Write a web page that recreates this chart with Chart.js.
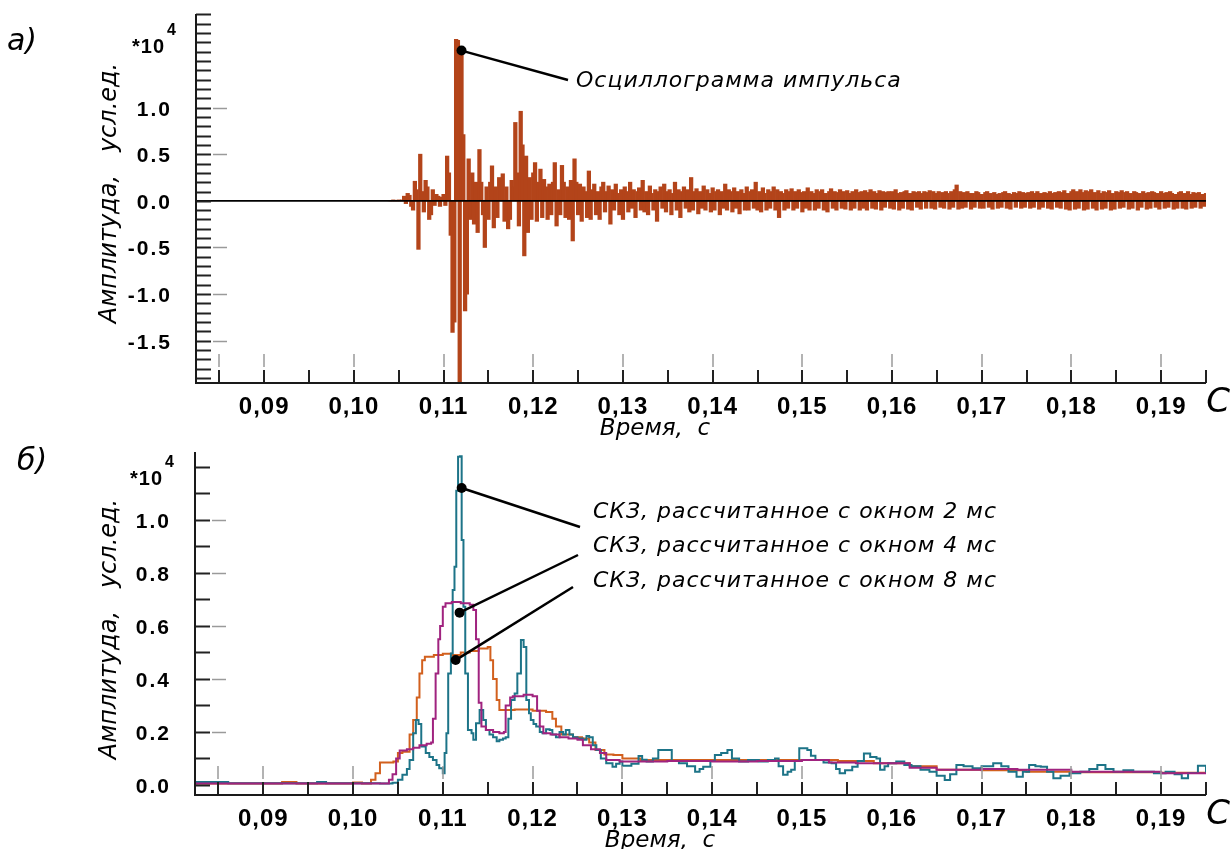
<!DOCTYPE html>
<html lang="ru">
<head>
  <meta charset="UTF-8">
  <title>Осциллограмма импульса и СКЗ</title>
  <script src="https://cdn.jsdelivr.net/npm/chart.js@4.4.1/dist/chart.umd.min.js"></script>
  <style>
    html, body { margin: 0; padding: 0; background: #fff; }
    .wrap { position: relative; width: 1230px; height: 849px; overflow: hidden; }
    canvas { position: absolute; left: 0; top: 0; }
  </style>
</head>
<body>
  <div class="wrap">
    <canvas id="oscChart" width="1230" height="849"></canvas>
    <canvas id="rmsChart" width="1230" height="849"></canvas>
  </div>

  <script>
    // Оси
    const xTicks = [0.09, 0.10, 0.11, 0.12, 0.13, 0.14, 0.15, 0.16, 0.17, 0.18, 0.19];
    const xTickLabels = ['0,09', '0,10', '0,11', '0,12', '0,13', '0,14', '0,15', '0,16', '0,17', '0,18', '0,19'];
    const xGrayTicks = [0.085, 0.09, 0.10, 0.11, 0.12, 0.13, 0.14, 0.15, 0.16, 0.17, 0.18, 0.19];
    const oscYTicks = [1.0, 0.5, 0.0, -0.5, -1.0, -1.5];
    const oscYLabels = ['1.0', '0.5', '0.0', '-0.5', '-1.0', '-1.5'];
    const rmsYTicks = [1.0, 0.8, 0.6, 0.4, 0.2, 0.0];
    const rmsYLabels = ['1.0', '0.8', '0.6', '0.4', '0.2', '0.0'];

    // Осциллограмма: отсчёты с шагом 0.2 мс начиная с 0.104 с (ед. *10^4)
    const OSC_T0 = 0.1040;
    const OSC_DT = 0.0002;
    const oscValues = [
      0, 0, 0.01, 0, 0, 0.01, 0, 0.01, 0.05, -0.03, 0.08, 0.06, -0.06, -0.1, 0.21, 0.12, -0.52, 0.5, 0.1, -0.12,
      0.22, 0.15, -0.2, -0.15, 0.12, -0.05, 0.07, 0.05, -0.06, 0.04, 0.07, -0.05, 0.48, 0.3, -0.37, -1.41, -1.3, 1.73, 1.72, -1.98,
      1.65, 0.71, -1.18, -1.0, 0.45, -0.2, 0.3, -0.25, 0.2, -0.34, 0.55, 0.2, -0.15, -0.5, 0.15, -0.2, 0.2, 0.375, -0.29, 0.15,
      -0.18, 0.25, 0.2, 0.29, -0.22, 0.15, -0.3, -0.2, 0.22, 0.15, 0.84, 0.3, -0.27, 0.96, 0.6, -0.59, 0.48, -0.34, 0.25, -0.2,
      0.3, 0.41, -0.22, 0.2, 0.34, -0.18, 0.23, 0.15, -0.2, 0.18, -0.15, 0.2, 0.41, -0.27, 0.12, -0.15, 0.38, 0.2, -0.18, 0.15,
      -0.2, 0.22, -0.43, 0.45, 0.2, -0.15, 0.18, -0.22, 0.15, 0.1, -0.18, 0.32, -0.2, 0.12, 0.18, -0.15, 0.1, -0.2, 0.15, 0.2,
      -0.12, 0.1, 0.16, -0.25, 0.12, -0.1, 0.18, 0.08, -0.15, 0.12, -0.2, 0.15, 0.1, -0.12, 0.2, -0.08, 0.12, -0.18, 0.1, 0.14,
      -0.1, 0.22, -0.12, 0.1, -0.15, 0.16, 0.08, -0.1, 0.12, -0.22, 0.1, 0.15, -0.08, 0.18, -0.12, 0.1, 0.12, -0.15, 0.08, 0.2,
      -0.1, 0.12, -0.18, 0.1, 0.15, -0.08, 0.12, -0.12, 0.25, -0.1, 0.1, 0.13, -0.14, 0.1, -0.08, 0.16, -0.1, 0.12, 0.08, -0.12,
      0.14, -0.1, 0.1, 0.12, -0.15, 0.1, -0.08, 0.18, -0.1, 0.12, 0.1, -0.12, 0.14, -0.08, 0.1, -0.14, 0.12, 0.08, -0.1, 0.15,
      -0.1, 0.1, 0.12, -0.08, 0.2, -0.1, 0.1, -0.12, 0.14, 0.08, -0.1, 0.12, -0.08, 0.1, 0.15, -0.1, 0.12, -0.18, 0.1, 0.08,
      -0.1, 0.12, -0.08, 0.1, 0.13, -0.1, 0.1, -0.08, 0.12, 0.09, -0.12, 0.1, -0.08, 0.14, -0.1, 0.1, 0.08, -0.1, 0.12, -0.08,
      0.1, 0.12, -0.1, 0.08, -0.12, 0.1, 0.13, -0.08, 0.1, -0.1, 0.09, 0.12, -0.08, 0.1, -0.09, 0.11, 0.08, -0.1, 0.1, -0.08,
      0.12, 0.09, -0.1, 0.1, -0.08, 0.11, -0.1, 0.09, 0.12, -0.08, 0.1, -0.09, 0.08, 0.11, -0.1, 0.1, -0.07, 0.09, 0.1, -0.08,
      0.1, -0.09, 0.12, 0.08, -0.1, 0.09, -0.08, 0.1, 0.11, -0.09, 0.08, -0.1, 0.1, 0.09, -0.07, 0.1, -0.09, 0.08, 0.1, -0.08,
      0.09, 0.11, -0.08, 0.1, -0.09, 0.08, 0.1, -0.07, 0.09, -0.08, 0.1, 0.08, -0.09, 0.1, -0.07, 0.12, 0.17, -0.09, 0.1, -0.08,
      0.09, -0.07, 0.1, 0.08, -0.09, 0.08, -0.07, 0.1, 0.09, -0.08, 0.07, -0.08, 0.09, 0.1, -0.07, 0.08, -0.09, 0.09, 0.07, -0.08,
      0.08, -0.07, 0.09, 0.1, -0.08, 0.08, -0.09, 0.07, 0.09, -0.07, 0.08, 0.1, -0.08, 0.09, -0.07, 0.08, 0.09, -0.08, 0.1, -0.07,
      0.08, 0.1, -0.09, 0.08, -0.07, 0.09, 0.08, -0.08, 0.1, -0.09, 0.08, 0.09, -0.07, 0.1, -0.08, 0.09, 0.11, -0.09, 0.08, -0.1,
      0.1, 0.12, -0.09, 0.1, -0.08, 0.12, 0.09, -0.1, 0.11, -0.09, 0.1, 0.12, -0.08, 0.09, -0.1, 0.11, 0.08, -0.09, 0.1, -0.08,
      0.09, 0.11, -0.1, 0.08, -0.09, 0.1, 0.09, -0.08, 0.11, -0.07, 0.09, 0.1, -0.09, 0.08, -0.08, 0.1, 0.09, -0.1, 0.08, -0.07,
      0.1, 0.08, -0.09, 0.09, -0.08, 0.1, 0.09, -0.07, 0.08, -0.09, 0.1, 0.08, -0.08, 0.09, -0.07, 0.1, 0.08, -0.09, 0.07, -0.08,
      0.09, 0.1, -0.08, 0.08, -0.09, 0.1, 0.07, -0.08, 0.09, -0.07, 0.08, 0.09, -0.08, 0.07, -0.06, 0.08
    ];

    // СКЗ, окно 2 мс
    const rms2T = [
      0.0824, 0.0826, 0.0861, 0.0960, 0.0970, 0.1030, 0.1044, 0.1050, 0.1055, 0.1060,
      0.1063, 0.1067, 0.1070, 0.1073, 0.1076, 0.1081, 0.1085, 0.1089, 0.1093, 0.1096,
      0.1100, 0.1102, 0.1104, 0.1106, 0.1109, 0.1111, 0.1113, 0.1115, 0.1117, 0.1119,
      0.1121, 0.1123, 0.1125, 0.1128, 0.1132, 0.1134, 0.1137, 0.1141, 0.1145, 0.1148,
      0.1152, 0.1156, 0.1160, 0.1163, 0.1167, 0.1170, 0.1173, 0.1176, 0.1180, 0.1183,
      0.1187, 0.1190, 0.1193, 0.1196, 0.1198, 0.1201, 0.1204, 0.1208, 0.1211, 0.1215,
      0.1219, 0.1222, 0.1226, 0.1230, 0.1234, 0.1237, 0.1241, 0.1245, 0.1250, 0.1256,
      0.1260, 0.1263, 0.1267, 0.1271, 0.1276, 0.1282, 0.1289, 0.1293, 0.1297, 0.1300,
      0.1310, 0.1318, 0.1322, 0.1327, 0.1334, 0.1340, 0.1352, 0.1355, 0.1363, 0.1372,
      0.1381, 0.1386, 0.1390, 0.1398, 0.1403, 0.1410, 0.1417, 0.1422, 0.1430, 0.1440,
      0.1452, 0.1462, 0.1470, 0.1474, 0.1479, 0.1484, 0.1488, 0.1492, 0.1497, 0.1506,
      0.1510, 0.1515, 0.1524, 0.1533, 0.1538, 0.1542, 0.1548, 0.1556, 0.1562, 0.1569,
      0.1576, 0.1583, 0.1587, 0.1592, 0.1596, 0.1605, 0.1614, 0.1622, 0.1632, 0.1642,
      0.1650, 0.1659, 0.1665, 0.1672, 0.1680, 0.1690, 0.1700, 0.1713, 0.1722, 0.1730,
      0.1739, 0.1746, 0.1753, 0.1760, 0.1766, 0.1773, 0.1780, 0.1788, 0.1798, 0.1810,
      0.1820, 0.1829, 0.1838, 0.1847, 0.1858, 0.1869, 0.1880, 0.1892, 0.1905, 0.1915,
      0.1923, 0.1930, 0.1941, 0.1950
    ];
    const rms2V = [
      0.006, 0.011, 0.006, 0.011, 0.006, 0.005, 0.008, 0.02, 0.038, 0.06,
      0.094, 0.195, 0.245, 0.23, 0.145, 0.12, 0.105, 0.094, 0.075, 0.063,
      0.044, 0.12, 0.195, 0.42, 0.496, 0.735, 0.823, 1.11, 1.238, 1.24,
      0.924, 0.672, 0.42, 0.207, 0.195, 0.17, 0.233, 0.283, 0.245, 0.207,
      0.19, 0.18, 0.165, 0.17, 0.175, 0.18, 0.25, 0.32, 0.345, 0.42,
      0.547, 0.52, 0.32, 0.27, 0.245, 0.23, 0.22, 0.2, 0.195, 0.21,
      0.207, 0.19, 0.18, 0.2, 0.19, 0.207, 0.19, 0.18, 0.175, 0.17,
      0.185, 0.18, 0.15, 0.132, 0.1, 0.082, 0.069, 0.08, 0.088, 0.072,
      0.08, 0.109, 0.095, 0.088, 0.1, 0.132, 0.132, 0.09, 0.082, 0.07,
      0.05, 0.06, 0.069, 0.09, 0.113, 0.12, 0.132, 0.1, 0.088, 0.094,
      0.088, 0.094, 0.1, 0.07, 0.038, 0.05, 0.057, 0.09, 0.138, 0.132,
      0.11, 0.094, 0.085, 0.082, 0.06, 0.044, 0.055, 0.069, 0.09, 0.119,
      0.105, 0.1, 0.057, 0.07, 0.082, 0.088, 0.075, 0.07, 0.057, 0.05,
      0.035, 0.019, 0.04, 0.075, 0.07, 0.063, 0.07, 0.082, 0.07, 0.05,
      0.031, 0.05, 0.075, 0.07, 0.069, 0.05, 0.025, 0.035, 0.044, 0.05,
      0.06, 0.075, 0.06, 0.05, 0.055, 0.05, 0.05, 0.044, 0.05, 0.04,
      0.025, 0.045, 0.072, 0.044
    ];

    // СКЗ, окно 4 мс
    const rms4T = [
      0.0824, 0.1033, 0.1040, 0.1044, 0.1048, 0.1052, 0.1060, 0.1067, 0.1074, 0.1082,
      0.1087, 0.1089, 0.1092, 0.1095, 0.1097, 0.1100, 0.1103, 0.1110, 0.1120, 0.1130,
      0.1134, 0.1137, 0.1140, 0.1143, 0.1148, 0.1156, 0.1163, 0.1168, 0.1170, 0.1175,
      0.1178, 0.1190, 0.1200, 0.1205, 0.1208, 0.1212, 0.1220, 0.1230, 0.1240, 0.1250,
      0.1256, 0.1265, 0.1275, 0.1282, 0.1297, 0.1310, 0.1350, 0.1400, 0.1450, 0.1500,
      0.1530, 0.1560, 0.1590, 0.1620, 0.1650, 0.1700, 0.1740, 0.1800, 0.1850, 0.1900,
      0.1950
    ];
    const rms4V = [
      0.005, 0.005, 0.02, 0.04, 0.10, 0.13, 0.135, 0.14, 0.15, 0.155,
      0.16, 0.25, 0.42, 0.55, 0.60, 0.672, 0.685, 0.69, 0.685, 0.68,
      0.66, 0.55, 0.31, 0.22, 0.207, 0.2, 0.195, 0.2, 0.30, 0.33,
      0.335, 0.34, 0.335, 0.28, 0.22, 0.195, 0.19, 0.18, 0.175, 0.17,
      0.15, 0.135, 0.12, 0.094, 0.088, 0.088, 0.09, 0.088, 0.09, 0.094,
      0.085, 0.082, 0.082, 0.065, 0.057, 0.06, 0.057, 0.05, 0.05, 0.044,
      0.042
    ];

    // СКЗ, окно 8 мс
    const rms8T = [
      0.0824, 0.0921, 0.0937, 0.1000, 0.1010, 0.1015, 0.1020, 0.1025, 0.1030, 0.1045,
      0.1050, 0.1055, 0.1063, 0.1067, 0.1071, 0.1074, 0.1077, 0.1080, 0.1090, 0.1100,
      0.1110, 0.1120, 0.1130, 0.1140, 0.1150, 0.1153, 0.1156, 0.1160, 0.1163, 0.1180,
      0.1200, 0.1215, 0.1222, 0.1226, 0.1232, 0.1245, 0.1255, 0.1263, 0.1270, 0.1280,
      0.1290, 0.1300, 0.1320, 0.1380, 0.1450, 0.1500, 0.1540, 0.1580, 0.1620, 0.1650,
      0.1700, 0.1750, 0.1800, 0.1850, 0.1900, 0.1950
    ];
    const rms8V = [
      0.005, 0.011, 0.005, 0.009, 0.005, 0.005, 0.02, 0.044, 0.085, 0.088,
      0.12, 0.125, 0.19, 0.245, 0.33, 0.42, 0.47, 0.484, 0.49, 0.495,
      0.49, 0.50, 0.505, 0.515, 0.52, 0.47, 0.40, 0.32, 0.283, 0.285,
      0.28, 0.275, 0.25, 0.22, 0.19, 0.18, 0.175, 0.16, 0.132, 0.115,
      0.113, 0.1, 0.094, 0.094, 0.094, 0.094, 0.09, 0.082, 0.07, 0.057,
      0.055, 0.05, 0.048, 0.048, 0.046, 0.046
    ];

    const OSC_COLOR = '#b3441a';
    const RMS2_COLOR = '#1d7488';
    const RMS4_COLOR = '#a0237f';
    const RMS8_COLOR = '#d2601e';

    const LABEL_FONT = '"Liberation Sans Narrow", "Liberation Sans", sans-serif';
    const TEXT_FONT = '"DejaVu Sans", sans-serif';

    function pairs(ts, vs) {
      return ts.map((t, i) => ({ x: t, y: vs[i] }));
    }

    function text(ctx, str, x, y, font, align, base, spacing) {
      ctx.font = font;
      ctx.textAlign = align || 'left';
      ctx.textBaseline = base || 'alphabetic';
      ctx.letterSpacing = spacing || '0px';
      ctx.fillStyle = '#000';
      ctx.fillText(str, x, y);
    }

    // рамка, риски, подписи
    function framePlugin(o) {
      return {
        id: 'frame',
        afterDatasetsDraw(chart) {
          const ctx = chart.ctx;
          const a = chart.chartArea;
          const x = chart.scales.x, y = chart.scales.y;
          ctx.save();

          if (o.zeroLine) {
            ctx.strokeStyle = '#000';
            ctx.lineWidth = 1.6;
            ctx.beginPath();
            ctx.moveTo(a.left, y.getPixelForValue(0));
            ctx.lineTo(a.right, y.getPixelForValue(0));
            ctx.stroke();
          }

          // риски оси Y
          ctx.strokeStyle = '#222';
          ctx.lineWidth = 2;
          for (let k = o.yMinorFrom; k <= o.yMinorTo; k++) {
            const py = Math.round(y.getPixelForValue(k * 0.1)) + 0.5;
            ctx.beginPath();
            ctx.moveTo(a.left, py);
            ctx.lineTo(a.left + 15, py);
            ctx.stroke();
          }
          ctx.strokeStyle = '#9a9a9a';
          ctx.lineWidth = 1.5;
          o.yTicks.forEach(v => {
            if (v === 0) return;
            const py = Math.round(y.getPixelForValue(v)) + 0.5;
            ctx.beginPath();
            ctx.moveTo(a.left + 17, py);
            ctx.lineTo(a.left + 31, py);
            ctx.stroke();
          });

          // риски оси X
          ctx.strokeStyle = '#222';
          ctx.lineWidth = 2;
          for (let k = 17; k <= 39; k++) {
            const px = Math.round(x.getPixelForValue(k * 0.005));
            ctx.beginPath();
            ctx.moveTo(px, a.bottom);
            ctx.lineTo(px, a.bottom - 13);
            ctx.stroke();
          }
          ctx.strokeStyle = '#9a9a9a';
          ctx.lineWidth = 1.5;
          xGrayTicks.forEach(v => {
            const px = Math.round(x.getPixelForValue(v));
            ctx.beginPath();
            ctx.moveTo(px, a.bottom - 16);
            ctx.lineTo(px, a.bottom - 29);
            ctx.stroke();
          });

          // оси
          ctx.strokeStyle = '#1a1a1a';
          ctx.lineWidth = 2;
          ctx.beginPath();
          ctx.moveTo(a.left, a.top);
          ctx.lineTo(a.left, a.bottom);
          ctx.lineTo(a.right, a.bottom);
          ctx.stroke();

          // подписи делений
          o.yTicks.forEach((v, i) => {
            text(ctx, o.yLabels[i], a.left - 24, y.getPixelForValue(v) + 8,
              'bold 21px ' + LABEL_FONT, 'right', 'alphabetic', '2px');
          });
          xTicks.forEach((v, i) => {
            text(ctx, xTickLabels[i], x.getPixelForValue(v), a.bottom + 31,
              'bold 24px ' + LABEL_FONT, 'center', 'alphabetic', '1px');
          });
          text(ctx, '*10', o.expX, o.expY, 'bold 20px ' + LABEL_FONT, 'right', 'alphabetic', '1px');
          text(ctx, '4', o.expX + 2, o.expY - 18, 'bold 16px ' + LABEL_FONT, 'left', 'alphabetic');

          // подписи осей
          text(ctx, 'Время,  с', o.xTitleX, a.bottom + 52, 'italic 23px ' + TEXT_FONT, 'center');
          text(ctx, 'С', a.right + 12, a.bottom + 29, 'italic 34px ' + TEXT_FONT, 'center');
          ctx.save();
          ctx.translate(116, o.yTitleY);
          ctx.rotate(-Math.PI / 2);
          text(ctx, 'Амплитуда,   усл.ед.', 0, 0, 'italic 24px ' + TEXT_FONT, 'center');
          ctx.restore();
          text(ctx, o.panel, o.panelX, o.panelY, 'italic 30px ' + TEXT_FONT, 'center');

          // выноски
          o.notes.forEach(n => {
            const px = x.getPixelForValue(n.t), py = y.getPixelForValue(n.v);
            ctx.strokeStyle = '#000';
            ctx.lineWidth = 2.5;
            ctx.beginPath();
            ctx.moveTo(px, py);
            ctx.lineTo(n.ex, n.ey);
            ctx.stroke();
            ctx.fillStyle = '#000';
            ctx.beginPath();
            ctx.arc(px, py, 5, 0, Math.PI * 2);
            ctx.fill();
            text(ctx, n.label, n.tx, n.ty, 'italic 22px ' + TEXT_FONT, 'left', 'alphabetic', '1px');
          });

          ctx.restore();
        }
      };
    }

    const baseOptions = (pad, yMin, yMax) => ({
      responsive: false,
      animation: false,
      devicePixelRatio: 1,
      layout: { padding: pad },
      plugins: { legend: { display: false }, tooltip: { enabled: false } },
      elements: { point: { radius: 0 } },
      scales: {
        x: { type: 'linear', min: 0.0824, max: 0.195, offset: false, display: false },
        y: { type: 'linear', min: yMin, max: yMax, display: false }
      }
    });

    new Chart(document.getElementById('oscChart'), {
      type: 'bar',
      data: {
        datasets: [{
          data: oscValues.map((v, i) => ({ x: OSC_T0 + i * OSC_DT, y: v })),
          backgroundColor: OSC_COLOR,
          borderWidth: 0,
          barThickness: 3.6
        }]
      },
      options: baseOptions({ left: 196, right: 24, top: 14, bottom: 466 }, -1.952, 2.002),
      plugins: [framePlugin({
        zeroLine: true,
        yMinorFrom: -19, yMinorTo: 20,
        yTicks: oscYTicks, yLabels: oscYLabels,
        expX: 165, expY: 53,
        xTitleX: 655, yTitleY: 193,
        panel: 'а)', panelX: 22, panelY: 50,
        notes: [
          { t: 0.1120, v: 1.61, ex: 568, ey: 80, tx: 576, ty: 87, label: 'Осциллограмма импульса' }
        ]
      })]
    });

    new Chart(document.getElementById('rmsChart'), {
      type: 'line',
      data: {
        datasets: [
          { data: pairs(rms4T, rms4V), borderColor: RMS4_COLOR, borderWidth: 2, stepped: true, fill: false, order: 0 },
          { data: pairs(rms2T, rms2V), borderColor: RMS2_COLOR, borderWidth: 2, stepped: true, fill: false, order: 1 },
          { data: pairs(rms8T, rms8V), borderColor: RMS8_COLOR, borderWidth: 2, stepped: true, fill: false, order: 2 }
        ]
      },
      options: baseOptions({ left: 195, right: 24, top: 452, bottom: 54 }, -0.038, 1.256),
      plugins: [framePlugin({
        zeroLine: false,
        yMinorFrom: 0, yMinorTo: 12,
        yTicks: rmsYTicks, yLabels: rmsYLabels,
        expX: 163, expY: 485,
        xTitleX: 660, yTitleY: 629,
        panel: 'б)', panelX: 32, panelY: 470,
        notes: [
          { t: 0.1121, v: 1.12, ex: 580, ey: 527, tx: 593, ty: 518, label: 'СКЗ, рассчитанное с окном 2 мс' },
          { t: 0.11187, v: 0.65, ex: 578, ey: 555, tx: 593, ty: 552, label: 'СКЗ, рассчитанное с окном 4 мс' },
          { t: 0.11143, v: 0.471, ex: 573, ey: 587, tx: 593, ty: 587, label: 'СКЗ, рассчитанное с окном 8 мс' }
        ]
      })]
    });
  </script>
</body>
</html>
